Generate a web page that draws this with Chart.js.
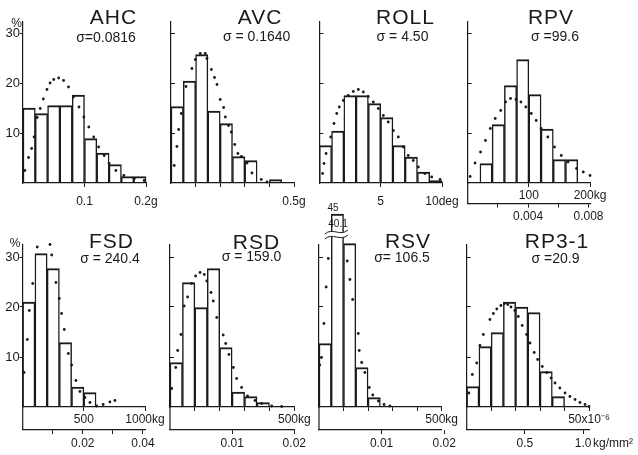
<!DOCTYPE html>
<html>
<head>
<meta charset="utf-8">
<script src="https://cdn.jsdelivr.net/npm/chart.js@4.4.1/dist/chart.umd.min.js"></script>
<style>
    body { margin: 0; background: #fff; width: 638px; height: 455px; position: relative; overflow: hidden;
           font-family: 'Liberation Sans', Arial, sans-serif; color: #1a1a1a; }
    canvas { position: absolute; }
    .t { position: absolute; transform: translate(-50%, -50%); white-space: nowrap; line-height: 1; }
    .name { font-size: 21px; letter-spacing: 1px; }
    .sig { font-size: 14px; }
    .small { font-size: 12px; }
    .tiny { font-size: 10px; }
</style>
</head>
<body>
<script>
// y 轴刻度 (%)
const pctTicks = [10, 20, 30];
const pctLabels = ['10', '20', '30'];

// AHC
const ahcEdges = [0, 0.02, 0.04, 0.06, 0.08, 0.10, 0.12, 0.14, 0.16, 0.18];
const ahcPct = [15.0, 13.9, 15.5, 15.5, 17.6, 8.9, 6.0, 3.7, 1.3, 1.3];
const ahcCurveX = [0.003, 0.009, 0.014, 0.018, 0.023, 0.028, 0.033, 0.039, 0.044, 0.050, 0.058, 0.066, 0.074, 0.082, 0.091, 0.099, 0.107, 0.115, 0.123, 0.132, 0.140, 0.151, 0.164, 0.181, 0.197];
const ahcCurveY = [2.5, 5.1, 6.9, 9.2, 13.1, 14.9, 16.8, 18.7, 20.0, 20.7, 21.0, 20.5, 19.2, 17.2, 15.2, 13.2, 11.2, 9.2, 7.2, 5.5, 3.9, 2.5, 1.5, 0.9, 0.5];
const ahcTicks = [0.1, 0.2];
const ahcTickLabels = ['0.1', '0.2g'];

// AVC
const avcEdges = [0, 0.05, 0.10, 0.15, 0.20, 0.25, 0.30, 0.35, 0.40, 0.45];
const avcPct = [15.3, 20.4, 25.7, 14.4, 11.9, 5.3, 4.5, 0, 0.7, 0];
const avcCurveX = [0.013, 0.024, 0.031, 0.042, 0.061, 0.085, 0.099, 0.119, 0.139, 0.146, 0.164, 0.177, 0.187, 0.200, 0.214, 0.221, 0.234, 0.245, 0.259, 0.272, 0.286, 0.309, 0.329, 0.367, 0.390];
const avcCurveY = [3.5, 7.3, 10.7, 13.9, 19.3, 22.9, 24.7, 25.9, 25.9, 24.9, 22.7, 21.1, 19.7, 16.7, 15.1, 13.2, 11.5, 10.2, 7.7, 5.9, 5.3, 4.0, 2.0, 0.7, 0.2];
const avcTicks = [0.1, 0.2, 0.3, 0.4, 0.5];
const avcTickLabels = ['', '', '', '', '0.5g'];

// ROLL
const rollEdges = [0, 1, 2, 3, 4, 5, 6, 7, 8, 9];
const rollPct = [7.5, 10.4, 17.5, 17.5, 15.9, 13.1, 7.5, 5.2, 2.2, 0.5];
const rollCurveX = [0.27, 0.38, 0.55, 0.93, 1.2, 1.42, 1.63, 1.96, 2.36, 2.77, 3.18, 3.59, 3.99, 4.4, 4.81, 5.22, 5.62, 6.03, 6.44, 6.85, 7.25, 7.66, 8.07, 8.61, 9.16, 9.84];
const rollCurveY = [1.9, 3.9, 5.9, 9.2, 11.9, 13.9, 15.2, 16.5, 17.5, 18.3, 18.7, 18.2, 17.3, 16.2, 14.9, 13.5, 12.2, 10.5, 9.2, 7.2, 5.5, 4.5, 3.2, 1.9, 1.2, 0.7];
const rollTicks = [5, 10];
const rollTickLabels = ['5', '10deg'];

// RPV
const rpvEdges = [0, 20, 40, 60, 80, 100, 120, 140, 160, 180];
const rpvPct = [0, 3.9, 11.7, 19.5, 24.7, 17.7, 10.8, 4.7, 4.7, 0];
const rpvCurveX = [4, 12, 21, 29, 37, 45, 54, 62, 70, 79, 87, 95, 104, 112, 120, 131, 142, 153, 164, 178, 189, 200];
const rpvCurveY = [1.3, 4.0, 6.2, 8.5, 10.9, 12.9, 14.5, 16.2, 16.9, 16.7, 16.2, 15.2, 13.9, 12.5, 10.9, 9.2, 7.2, 5.5, 4.2, 2.9, 2.2, 1.5];
const rpvTicks = [100, 200];
const rpvTickLabels = ['100', '200kg'];
const rpvLowTicks = [0.002, 0.004, 0.006, 0.008];
const rpvLowLabels = ['', '0.004', '', '0.008'];

// FSD
const fsdEdges = [0, 100, 200, 300, 400, 500, 600, 700, 800, 900];
const fsdPct = [21.0, 30.7, 27.7, 12.9, 4.0, 2.9, 0, 0, 0, 0];
const fsdCurveX = [11, 38, 54, 82, 119, 141, 163, 196, 223, 237, 272, 299, 318, 340, 373, 400, 435, 468, 509, 550, 605, 658, 713, 754];
const fsdCurveY = [6.9, 13.5, 19.3, 24.7, 32.0, 34.2, 35.2, 34.4, 32.5, 30.4, 24.9, 21.7, 18.7, 15.5, 10.7, 8.4, 5.3, 3.1, 1.9, 0.9, 0.2, 0.5, 1.0, 1.3];
const fsdTicks = [500, 1000];
const fsdTickLabels = ['500', '1000kg'];
const fsdLowTicks = [0.01, 0.02, 0.03, 0.04];
const fsdLowLabels = ['', '0.02', '', '0.04'];

// RSD
const rsdEdges = [0, 50, 100, 150, 200, 250, 300, 350, 400, 450];
const rsdPct = [8.9, 24.9, 19.9, 27.7, 11.9, 3.0, 2.1, 0.9, 0, 0];
const rsdCurveX = [7, 23, 31, 44, 57, 71, 87, 103, 121, 138, 148, 165, 174, 188, 214, 224, 237, 255, 268, 288, 312, 342, 369, 409, 449];
const rsdCurveY = [3.7, 7.9, 11.3, 14.5, 20.2, 22.0, 24.7, 26.2, 26.9, 26.5, 25.2, 22.9, 21.2, 17.9, 14.4, 12.7, 10.5, 7.9, 5.7, 3.9, 2.2, 1.3, 0.7, 0.2, 0.1];
const rsdTicks = [100, 200, 300, 400, 500];
const rsdTickLabels = ['', '', '', '', '500kg'];
const rsdLowTicks = [0.01, 0.02];
const rsdLowLabels = ['0.01', '0.02'];

// RSV (第2、3柱在断轴处截断，实际值 45 / 40.1 以文字标出)
const rsvEdges = [0, 50, 100, 150, 200, 250, 300, 350, 400, 450];
const rsvPct = [12.7, 38.6, 32.7, 7.9, 1.9, 0, 0, 0, 0, 0];
const rsvBrokenLabels = ['45', '40.1'];
const rsvCurveX = [3, 10, 20, 29, 38, 115, 126, 137, 160, 164, 174, 187, 205, 219, 242, 265, 289];
const rsvCurveY = [8.4, 9.9, 16.7, 24.0, 29.7, 29.2, 25.5, 21.5, 14.7, 11.3, 8.9, 6.9, 3.9, 2.4, 1.2, 0.5, 0.2];
const rsvTicks = [100, 200, 300, 400, 500];
const rsvTickLabels = ['', '', '', '', '500kg'];
const rsvLowTicks = [0.01, 0.02];
const rsvLowLabels = ['0.01', '0.02'];

// RP3-1
const rp3Edges = [0, 5, 10, 15, 20, 25, 30, 35, 40, 45];
const rp3Pct = [4.1, 12.1, 14.9, 21.0, 20.0, 18.9, 7.1, 2.1, 0, 0];
const rp3CurveX = [0.9, 2.3, 4.1, 5.4, 6.8, 9.5, 10.9, 12.3, 14.0, 15.4, 16.8, 18.1, 19.7, 21.1, 22.7, 24.5, 25.9, 27.6, 29.0, 30.9, 32.7, 34.5, 36.1, 38.1, 40.2, 42.2, 44.3, 46.3, 48.4, 50.0];
const rp3CurveY = [2.8, 6.5, 8.8, 12.3, 14.5, 17.5, 18.7, 19.6, 20.3, 20.7, 20.5, 20.0, 19.3, 18.1, 16.3, 14.5, 12.8, 10.9, 9.5, 8.1, 6.9, 5.8, 4.8, 3.8, 2.8, 2.1, 1.5, 0.9, 0.5, 0.1];
const rp3Ticks = [10, 20, 30, 40, 50];
const rp3TickLabels = ['', '', '', '', '50x10⁻⁶'];
const rp3LowTicks = [0.5, 1.0];
const rp3LowLabels = ['0.5', '1.0'];

// 两行面板的版面（像素）
const rows = [
    { top: 0, h: 226, areaTop: 22, base: 183, xH: 20.5 },
    { top: 200, h: 255, areaTop: 245, base: 407, xH: 23 }
];

const panels = [
    { row: 0, axisX: 23, axisEnd: 146, xMax: 0.2, bw: 0.02, edges: ahcEdges, pct: ahcPct, cx: ahcCurveX, cy: ahcCurveY, ticks: ahcTicks, labels: ahcTickLabels, yLabels: true },
    { row: 0, axisX: 171, axisEnd: 294, xMax: 0.5, bw: 0.05, edges: avcEdges, pct: avcPct, cx: avcCurveX, cy: avcCurveY, ticks: avcTicks, labels: avcTickLabels },
    { row: 0, axisX: 319.3, axisEnd: 442, xMax: 10, bw: 1, edges: rollEdges, pct: rollPct, cx: rollCurveX, cy: rollCurveY, ticks: rollTicks, labels: rollTickLabels },
    { row: 0, axisX: 467.7, axisEnd: 590, xMax: 200, bw: 20, edges: rpvEdges, pct: rpvPct, cx: rpvCurveX, cy: rpvCurveY, ticks: rpvTicks, labels: rpvTickLabels, x2Max: 0.0081, x2Ticks: rpvLowTicks, x2Labels: rpvLowLabels },
    { row: 1, axisX: 22.7, axisEnd: 145, xMax: 1000, bw: 100, edges: fsdEdges, pct: fsdPct, cx: fsdCurveX, cy: fsdCurveY, ticks: fsdTicks, labels: fsdTickLabels, x2Max: 0.0407, x2Ticks: fsdLowTicks, x2Labels: fsdLowLabels, yLabels: true },
    { row: 1, axisX: 170, axisEnd: 294.3, xMax: 500, bw: 50, edges: rsdEdges, pct: rsdPct, cx: rsdCurveX, cy: rsdCurveY, ticks: rsdTicks, labels: rsdTickLabels, x2Max: 0.02, x2Ticks: rsdLowTicks, x2Labels: rsdLowLabels },
    { row: 1, axisX: 319, axisEnd: 441.7, xMax: 500, bw: 50, edges: rsvEdges, pct: rsvPct, cx: rsvCurveX, cy: rsvCurveY, ticks: rsvTicks, labels: rsvTickLabels, x2Max: 0.0196, x2Ticks: rsvLowTicks, x2Labels: rsvLowLabels, brk: { from: 24, to: 118, at: 34.6 } },
    { row: 1, axisX: 466.7, axisEnd: 589, xMax: 50, bw: 5, edges: rp3Edges, pct: rp3Pct, cx: rp3CurveX, cy: rp3CurveY, ticks: rp3Ticks, labels: rp3TickLabels, x2Max: 1.05, x2Ticks: rp3LowTicks, x2Labels: rp3LowLabels }
];

// 标题、σ 等文字 [文字, 中心x, 中心y, 样式]
const notes = [
    ['AHC', 113.5, 15.5, 'name'], ['AVC', 260, 15.5, 'name'], ['ROLL', 405.5, 15.5, 'name'], ['RPV', 551, 15.5, 'name'],
    ['FSD', 111.5, 239.5, 'name'], ['RSD', 256.5, 240.5, 'name'], ['RSV', 408, 240, 'name'], ['RP3-1', 557, 240, 'name'],
    ['σ=0.0816', 106, 36.5, 'sig'], ['σ = 0.1640', 256.7, 36, 'sig'], ['σ = 4.50', 402.5, 36, 'sig'], ['σ =99.6', 555, 36, 'sig'],
    ['σ = 240.4', 110, 257.5, 'sig'], ['σ = 159.0', 251.5, 256, 'sig'], ['σ= 106.5', 402, 256.7, 'sig'], ['σ =20.9', 555.5, 258, 'sig'],
    ['%', 16.5, 22.5, 'small'], ['%', 15, 243, 'small'],
    [rsvBrokenLabels[0], 333, 208, 'tiny'], [rsvBrokenLabels[1], 338, 224, 'tiny']
];

const INK = '#1a1a1a';
Chart.defaults.font.family = "'Liberation Sans', Arial, sans-serif";
Chart.defaults.color = INK;

// 双刻度面板：把 y 轴竖线延伸到下方刻度线；RSV 画断轴符号
const framePlugin = {
    id: 'frameExt',
    afterDraw(chart, args, opts) {
        const { ctx, chartArea, scales } = chart;
        ctx.save();
        ctx.strokeStyle = INK;
        ctx.lineWidth = 1.2;
        if (scales.x2) {
            ctx.beginPath();
            ctx.moveTo(chartArea.left, chartArea.bottom);
            ctx.lineTo(chartArea.left, scales.x2.top);
            ctx.stroke();
        }
        if (opts.brk) {
            const x0 = scales.x.getPixelForValue(opts.brk.from);
            const x1 = scales.x.getPixelForValue(opts.brk.to);
            const y = scales.y.getPixelForValue(opts.brk.at);
            const w = x1 - x0;
            const wave = (dy) => {
                ctx.moveTo(x0, y + 2 + dy);
                ctx.bezierCurveTo(x0 + w / 3, y - 5 + dy, x0 + 2 * w / 3, y + 5 + dy, x1, y - 2 + dy);
            };
            ctx.beginPath();
            wave(-2);
            ctx.lineTo(x1, y + 1);
            ctx.bezierCurveTo(x0 + 2 * w / 3, y + 8, x0 + w / 3, y - 2, x0, y + 5);
            ctx.closePath();
            ctx.fillStyle = '#fff';
            ctx.fill();
            ctx.beginPath();
            wave(-2);
            wave(3);
            ctx.lineWidth = 1;
            ctx.stroke();
        }
        ctx.restore();
    }
};

function buildPanel(p) {
    const row = rows[p.row];
    const dual = !!p.x2Ticks;
    const left = Math.floor(p.axisX - (p.yLabels ? p.axisX : 10));
    const yW = p.axisX - left;
    const width = Math.ceil(p.axisEnd - left + 45);
    const padR = width - (p.axisEnd - left);
    const below = row.h - (row.base - row.top);
    const xH = dual ? row.xH : below;

    const canvas = document.createElement('canvas');
    canvas.width = width;
    canvas.height = row.h;
    canvas.style.left = left + 'px';
    canvas.style.top = row.top + 'px';
    canvas.style.width = width + 'px';
    canvas.style.height = row.h + 'px';
    document.body.appendChild(canvas);

    const gridOpts = { drawOnChartArea: false, drawTicks: true, tickLength: 4, color: INK, lineWidth: 1, offset: false };
    const borderOpts = { display: true, color: INK, width: 1.2 };

    const scales = {
        x: {
            type: 'linear', position: 'bottom', min: 0, max: p.xMax, offset: false, weight: 0,
            grid: gridOpts, border: borderOpts,
            ticks: { padding: dual ? 1 : 7.5, autoSkip: false, maxRotation: 0, font: { size: 12 }, color: INK,
                     callback: (v, i) => p.labels[i] },
            afterBuildTicks: s => { s.ticks = p.ticks.map(v => ({ value: v })); },
            afterFit: s => { s.height = xH; }
        },
        y: {
            min: 0, max: (row.base - row.areaTop) / 5, position: 'left',
            grid: { drawOnChartArea: false, drawTicks: true, tickLength: p.yLabels ? 3 : -4, color: INK, lineWidth: 1 },
            border: borderOpts,
            ticks: { display: !!p.yLabels, padding: 0, font: { size: 13 }, color: INK,
                     callback: (v, i) => pctLabels[i] },
            afterBuildTicks: s => { s.ticks = pctTicks.map(v => ({ value: v })); },
            afterFit: s => { s.width = yW; }
        }
    };
    if (dual) {
        scales.x2 = {
            type: 'linear', position: 'bottom', min: 0, max: p.x2Max, offset: false, weight: 1,
            grid: gridOpts, border: borderOpts,
            ticks: { padding: 2, autoSkip: false, maxRotation: 0, font: { size: 12 }, color: INK,
                     callback: (v, i) => p.x2Labels[i] },
            afterBuildTicks: s => { s.ticks = p.x2Ticks.map(v => ({ value: v })); },
            afterFit: s => { s.height = below - xH; }
        };
    }

    new Chart(canvas.getContext('2d'), {
        type: 'bar',
        data: {
            datasets: [
                {
                    type: 'scatter',
                    data: p.cx.map((x, i) => ({ x: x, y: p.cy[i] })),
                    pointRadius: 1.4,
                    pointBackgroundColor: INK,
                    pointBorderWidth: 0,
                    showLine: false,
                    clip: false,
                    order: 1
                },
                {
                    type: 'bar',
                    data: p.edges.map((e, i) => ({ x: e + p.bw / 2, y: p.pct[i] })),
                    backgroundColor: 'rgba(0,0,0,0)',
                    borderColor: INK,
                    borderWidth: { top: 1.3, left: 0.8, right: 0.8, bottom: 0 },
                    barPercentage: 1,
                    categoryPercentage: 1,
                    clip: false,
                    order: 2
                }
            ]
        },
        options: {
            responsive: false,
            animation: false,
            events: [],
            layout: { padding: { left: 0, right: padR, top: row.areaTop - row.top, bottom: 0 } },
            scales: scales,
            plugins: {
                legend: { display: false },
                tooltip: { enabled: false },
                frameExt: { brk: p.brk || null }
            }
        },
        plugins: [framePlugin]
    });
}

panels.forEach(buildPanel);

notes.forEach(([text, x, y, cls]) => {
    const d = document.createElement('div');
    d.className = 't ' + cls;
    d.textContent = text;
    d.style.left = x + 'px';
    d.style.top = y + 'px';
    document.body.appendChild(d);
});

// RP3-1 下方刻度的单位
const unit = document.createElement('div');
unit.className = 'small';
unit.style.cssText = 'position:absolute;left:593px;top:436px;white-space:nowrap;';
unit.textContent = 'kg/mm²';
document.body.appendChild(unit);
</script>
</body>
</html>
